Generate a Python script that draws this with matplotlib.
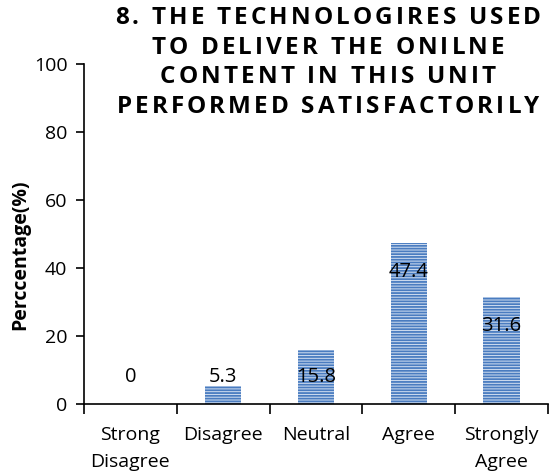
import matplotlib
matplotlib.use("Agg")
import matplotlib.pyplot as plt
from matplotlib.font_manager import FontProperties
import numpy as np

categories = ["Strong\nDisagree", "Disagree", "Neutral", "Agree", "Strongly\nAgree"]
values = [0, 5.3, 15.8, 47.4, 31.6]
title_lines = ["8. THE TECHNOLOGIRES USED", "TO DELIVER THE ONILNE",
               "CONTENT IN THIS UNIT", "PERFORMED SATISFACTORILY"]
ylabel = "Perccentage(%)"

plt.rcParams['font.family'] = ['Open Sans', 'DejaVu Sans']
plt.rcParams['hatch.color'] = '#4a7cc0'
plt.rcParams['hatch.linewidth'] = 1.3

fig = plt.figure(figsize=(5.49, 4.76), dpi=100)
ax = fig.add_axes([0.153, 0.151, 0.845, 0.7145])

x = np.arange(len(categories))
ax.bar(x, values, width=0.39, color='#d3e0f1', linewidth=0, hatch='------')

for xi, v in zip(x, values):
    ax.text(xi, max(v - 8.5, 8), f"{v:g}", ha='center', va='center', fontsize=14.5, color='black')

ax.set_xlim(-0.5, len(categories) - 0.5)
ax.set_ylim(0, 100)
ax.set_yticks([0, 20, 40, 60, 80, 100])
ax.tick_params(axis='y', labelsize=14, length=6, width=1.2, pad=6)
ax.set_xticks(x)
ax.set_xticklabels(categories, fontsize=14, linespacing=1.6)
ax.tick_params(axis='x', length=0, pad=16)
ax.set_xticks(np.arange(len(categories) + 1) - 0.5, minor=True)
ax.tick_params(axis='x', which='minor', length=7, width=1.2)
for s in ['top', 'right']:
    ax.spines[s].set_visible(False)
for s in ['left', 'bottom']:
    ax.spines[s].set_linewidth(1.2)
ax.set_ylabel(ylabel, fontsize=14, fontweight='bold')
ax.yaxis.set_label_coords(-0.115, 0.44)

# Title with letter spacing (tracking), each line centered
renderer = fig.canvas.get_renderer()
fp = FontProperties(family=['Open Sans', 'DejaVu Sans'], weight='bold', size=17.5)
cx = 328.0
target_w = 426.0
line_y = [18, 48, 77, 107]
W, H = fig.bbox.width, fig.bbox.height
all_widths = [[renderer.get_text_width_height_descent(ch, fp, ismath=False)[0] for ch in line]
              for line in title_lines]
tracking = (target_w - sum(all_widths[0])) / (len(title_lines[0]) - 1)
for line, widths, ly in zip(title_lines, all_widths, line_y):
    total = sum(widths) + tracking * (len(line) - 1)
    xpos = cx - total / 2
    for ch, w in zip(line, widths):
        if ch != ' ':
            fig.text(xpos / W, 1 - ly / H, ch, fontproperties=fp, ha='left', va='center')
        xpos += w + tracking

fig.savefig("out.png", dpi=100)
